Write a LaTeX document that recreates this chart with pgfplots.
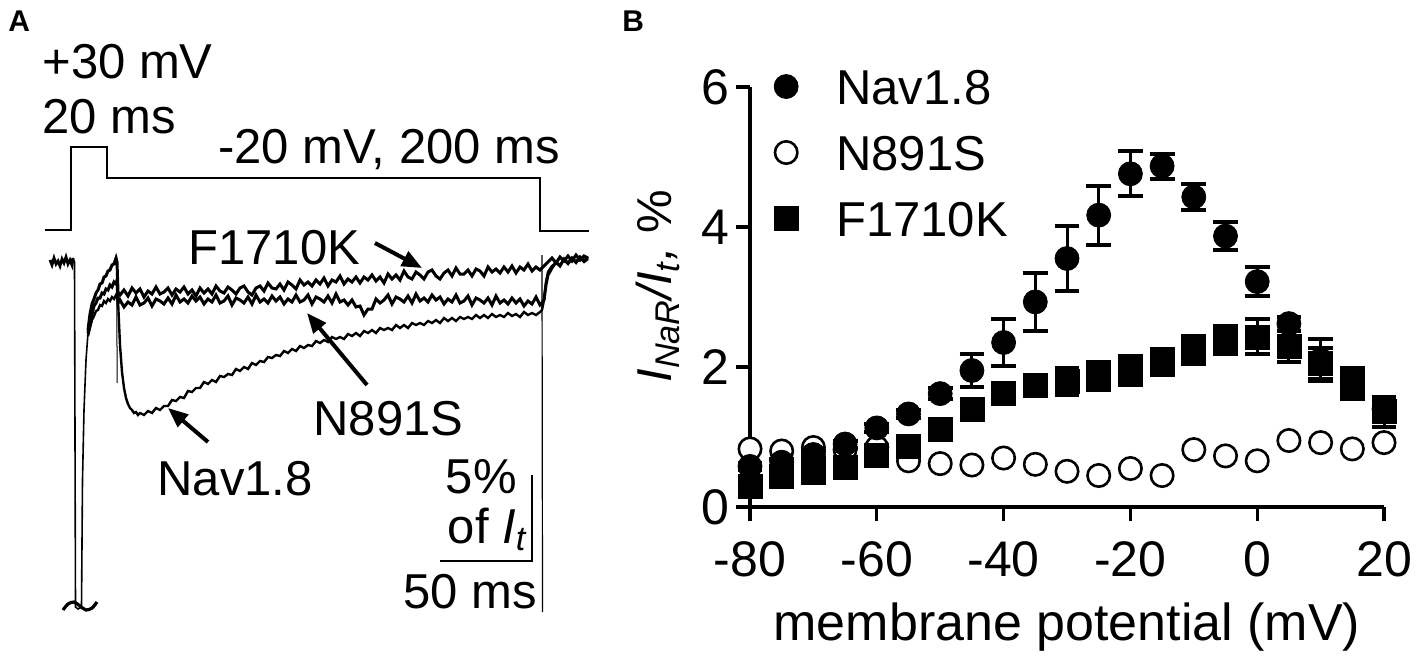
\documentclass[border=0pt]{standalone}
\usepackage{fontspec}
\setmainfont{Liberation Sans}
\usepackage{pgfplots}
\pgfplotsset{compat=1.18}
\usetikzlibrary{arrows.meta}
\newcommand{\bigf}{\fontsize{24.5}{28}\selectfont}
\newcommand{\tickf}{\fontsize{25}{28}\selectfont}
\newcommand{\labf}{\fontsize{26}{30}\selectfont}

\pgfplotstableread{
x y e
-80 0.58 0.05
-75 0.64 0.05
-70 0.75 0.05
-65 0.90 0.05
-60 1.13 0.06
-55 1.33 0.06
-50 1.62 0.08
-45 1.95 0.24
-40 2.35 0.33
-35 2.93 0.42
-30 3.55 0.46
-25 4.17 0.42
-20 4.76 0.32
-15 4.87 0.18
-10 4.43 0.19
-5 3.87 0.20
0 3.22 0.21
5 2.62 0.10
10 2.10 0.30
15 1.76 0.20
20 1.40 0.12
}\navdata

\pgfplotstableread{
x y e
-80 0.29 0.05
-75 0.44 0.05
-70 0.50 0.05
-65 0.57 0.05
-60 0.74 0.05
-55 0.87 0.05
-50 1.11 0.06
-45 1.40 0.08
-40 1.63 0.10
-35 1.74 0.15
-30 1.79 0.19
-25 1.87 0.20
-20 1.95 0.21
-15 2.07 0.19
-10 2.24 0.20
-5 2.38 0.20
0 2.43 0.25
5 2.29 0.22
10 2.05 0.22
15 1.76 0.22
20 1.36 0.21
}\fdata

\pgfplotstableread{
x y
-80 0.83
-75 0.80
-70 0.85
-65 0.82
-60 0.85
-55 0.66
-50 0.62
-45 0.60
-40 0.70
-35 0.61
-30 0.51
-25 0.45
-20 0.55
-15 0.45
-10 0.82
-5 0.73
0 0.66
5 0.95
10 0.92
15 0.83
20 0.92
}\ndata

\begin{document}
\begin{tikzpicture}
\useasboundingbox (0,0) rectangle (709pt,327.5pt);

% ---------------- Panel A ----------------
\begin{axis}[at={(0pt,0pt)}, anchor=south west, scale only axis,
  width=310pt, height=327.5pt, xmin=0, xmax=620, ymin=0, ymax=655,
  y dir=reverse, hide axis, clip=false]
% voltage protocol
\addplot[line width=1.25pt, black] coordinates {(45,230)(71,230)(71,147)(107,147)(107,178)(540,178)(540,231)(589,231)};
% pre-pulse baseline and clipped transient
\addplot[line width=1.4pt, black] coordinates {(50,260)(52,265)(54,258)(56,264)(58,261)(60,266)(62,259)(64,263)(66,257)(68,264)(70,260)(72,265)(73,258)};
\addplot[line width=0.8pt, black] coordinates {(73,258)(74.5,262)(75.5,607)(78,609)(81.5,607)(82.5,480)(84,410)(86,360)(88,333)};
% F1710K
\addplot[line width=1.5pt, black] coordinates {(88,330)(90,314)(92,304)(94,299)(96,293)(98,290)(100,284)(102,283)(104,277)(106,276)(108,271)(110,270)(112,265)(114,264)(116,258)(117,262)(118,292)(120,295)(124,290)(128,296)(132,288)(136,293)(140,289)(144,297)(148,291)(152,294)(156,287)(160,294)(164,292)(168,288)(172,295)(176,289)(180,292)(184,287)(188,294)(192,290)(196,296)(200,288)(204,293)(208,289)(212,294)(216,286)(220,291)(224,293)(228,287)(232,290)(236,294)(240,288)(244,286)(248,292)(252,295)(256,288)(260,286)(264,291)(268,283)(272,288)(276,289)(280,284)(284,290)(288,282)(292,285)(296,289)(300,280)(304,285)(308,282)(312,286)(316,280)(320,284)(324,278)(328,286)(332,280)(336,282)(340,276)(344,284)(348,279)(352,282)(356,277)(360,283)(364,277)(368,280)(372,275)(376,281)(380,277)(384,283)(388,274)(392,279)(396,275)(400,280)(404,271)(408,277)(412,279)(416,272)(420,275)(424,279)(428,272)(432,270)(436,276)(440,279)(444,273)(448,270)(452,276)(456,268)(460,274)(464,274)(468,270)(472,276)(476,269)(480,271)(484,276)(488,267)(492,272)(496,269)(500,273)(504,267)(508,272)(512,266)(516,273)(520,267)(524,270)(528,264)(532,271)(536,267)(540,270)(542,268)(544,266)(548,262)(552,258)(556,263)(560,257)(564,261)(568,256)(572,261)(576,255)(580,260)(584,256)(588,258)};
% N891S
\addplot[line width=1.5pt, black] coordinates {(88,333)(90,322)(92,314)(94,306)(96,303)(98,298)(100,298)(102,293)(104,294)(106,289)(108,290)(110,285)(112,287)(114,282)(116,284)(117,280)(118,303)(120,300)(124,307)(128,302)(132,305)(136,297)(140,305)(144,303)(148,298)(152,306)(156,299)(160,301)(164,304)(168,298)(172,304)(176,295)(180,302)(184,299)(188,303)(192,296)(196,301)(200,297)(204,304)(208,299)(212,302)(216,295)(220,303)(224,301)(228,296)(232,305)(236,298)(240,300)(244,303)(248,297)(252,304)(256,295)(260,302)(264,299)(268,303)(272,296)(276,301)(280,297)(284,304)(288,299)(292,302)(296,295)(300,302)(304,300)(308,295)(312,304)(316,297)(320,299)(324,302)(328,296)(332,303)(336,294)(340,302)(344,300)(348,305)(352,300)(356,307)(360,306)(364,315)(368,309)(372,309)(376,299)(380,303)(384,300)(388,295)(392,304)(396,297)(400,299)(404,302)(408,296)(412,303)(416,294)(420,301)(424,298)(428,302)(432,295)(436,300)(440,297)(444,304)(448,299)(452,302)(456,295)(460,303)(464,301)(468,296)(472,305)(476,298)(480,300)(484,303)(488,298)(492,305)(496,296)(500,303)(504,300)(508,304)(512,298)(516,303)(520,299)(524,306)(528,301)(532,304)(536,297)(540,305)(542,303)(544,300)(546,285)(548,275)(552,268)(556,262)(560,266)(564,259)(568,263)(572,258)(576,262)(580,257)(584,261)(588,257)};
% Nav1.8
\addplot[line width=1.2pt, black] coordinates {(88,336)(90,328)(92,320)(94,316)(96,311)(98,310)(100,305)(102,306)(104,301)(106,303)(108,299)(110,301)(112,297)(114,299)(116,295)(117,298)(118,300)(120,345)(122,372)(124,388)(126,398)(128,404)(130,408)(132,410)(134,413)(136,412)(138,415)(140,413)(144,415)(148,411)(152,413)(156,408)(160,410)(164,406)(168,406)(172,400)(176,401)(180,397)(184,398)(188,391)(192,392)(196,388)(200,388)(204,382)(208,384)(212,380)(216,382)(220,376)(224,377)(228,374)(232,375)(236,369)(240,371)(244,367)(248,369)(252,363)(256,365)(260,361)(264,362)(268,357)(272,358)(276,355)(280,356)(284,351)(288,353)(292,349)(296,351)(300,346)(304,348)(308,345)(312,346)(316,341)(320,343)(324,340)(328,342)(332,337)(336,339)(340,337)(344,339)(348,334)(352,336)(356,333)(360,336)(364,331)(368,333)(372,330)(376,333)(380,328)(384,330)(388,328)(392,330)(396,325)(400,328)(404,325)(408,328)(412,323)(416,325)(420,323)(424,325)(428,321)(432,323)(436,320)(440,323)(444,318)(448,321)(452,318)(456,321)(460,317)(464,319)(468,317)(472,319)(476,315)(480,318)(484,315)(488,318)(492,314)(496,317)(500,315)(504,317)(508,313)(512,316)(516,314)(520,317)(524,312)(528,315)(532,313)(536,315)(540,312)(542,310)(544,300)(546,282)(548,272)(552,266)(556,263)(560,265)(564,260)(568,264)(572,259)(576,263)(580,258)(584,262)(588,259)};
% capacitive transients
\addplot[line width=0.5pt, black] coordinates {(116.5,255)(117.2,383)};
\addplot[line width=0.6pt, black] coordinates {(542,255)(542.5,612)};
% truncation mark
\addplot[line width=1.6pt, black, smooth] coordinates {(63,610)(68,604)(74,602)(80,606)(86,610)(92,608)(97,602)};
% scale bar
\addplot[line width=1pt, black] coordinates {(440,561)(532,561)(532,475)};
% arrows
\draw[line width=2pt, -{Triangle[length=10pt,width=8pt]}] (axis cs:375,243) -- (axis cs:422,268);
\draw[line width=2pt, -{Triangle[length=10pt,width=8pt]}] (axis cs:367,385) -- (axis cs:307,313);
\draw[line width=2pt, -{Triangle[length=10pt,width=8pt]}] (axis cs:208,442) -- (axis cs:168,408);
% texts
\node[anchor=north west, inner sep=0pt, font=\bfseries\fontsize{15}{17}\selectfont] at (axis cs:8,10) {A};
\node[anchor=base west, inner sep=0pt, font=\bigf] at (axis cs:42,78) {+30 mV};
\node[anchor=base west, inner sep=0pt, font=\bigf] at (axis cs:42,133) {20 ms};
\node[anchor=base west, inner sep=0pt, font=\bigf] at (axis cs:218,163) {-20 mV, 200 ms};
\node[anchor=base west, inner sep=0pt, font=\bigf] at (axis cs:188,264) {F1710K};
\node[anchor=base west, inner sep=0pt, font=\bigf] at (axis cs:313,435) {N891S};
\node[anchor=base west, inner sep=0pt, font=\bigf] at (axis cs:157,495) {Nav1.8};
\node[anchor=base east, inner sep=0pt, font=\bigf] at (axis cs:517,493) {5\%};
\node[anchor=base east, inner sep=0pt, font=\bigf] at (axis cs:528,543) {of \textit{I}\textsubscript{\textit{t}}};
\node[anchor=base east, inner sep=0pt, font=\bigf] at (axis cs:537,608) {50 ms};
\end{axis}

% ---------------- Panel B ----------------
\begin{axis}[at={(375pt,74pt)}, anchor=south west, scale only axis,
  width=317pt, height=210pt,
  xmin=-80, xmax=20, ymin=0, ymax=6,
  axis x line*=bottom, axis y line*=left,
  axis line style={line width=1.6pt, -},
  every outer x axis line/.append style={-},
  every outer y axis line/.append style={-},
  xtick={-80,-60,-40,-20,0,20}, ytick={0,2,4,6},
  tick align=outside, major tick length=7pt,
  tick style={line width=1.6pt, black},
  ticklabel style={font=\tickf},
  xticklabel style={yshift=-7pt},
  /pgf/number format/assume math mode=true,
  clip=false,
  xlabel={membrane potential (mV)},
  xlabel style={font=\labf, at={(axis description cs:0.5,0)}, anchor=base, yshift=-66.5pt},
  ylabel={\textit{I}\textsubscript{\textit{NaR}}\textit{/I}\textsubscript{\textit{t}}\textit{,} \%},
  ylabel style={font=\bigf, at={(axis description cs:-0.145,0.526)}, anchor=center},
  legend style={at={(axis description cs:0.0375,1.045)}, anchor=north west,
    draw=none, fill=none, font=\bigf, inner sep=0pt, row sep=15pt,
    nodes={inner sep=0pt, text height=18pt, text depth=0pt},
    /tikz/every odd column/.append style={column sep=19pt}},
  legend cell align=left,
  legend image code/.code={\draw[#1] plot coordinates {(0pt,0pt)};},
]
\addlegendimage{only marks, mark=*, mark size=6pt, black}
\addlegendentry{Nav1.8}
\addlegendimage{only marks, mark=*, mark size=5.6pt, mark options={fill=white, draw=black, line width=1.3pt}}
\addlegendentry{N891S}
\addlegendimage{only marks, mark=square*, mark size=6pt, black}
\addlegendentry{F1710K}

\addplot[forget plot, only marks, mark=*, mark size=5.6pt, mark options={fill=white, draw=black, line width=1.3pt}] table[x=x, y=y] {\ndata};
\addplot[forget plot, only marks, mark=*, mark size=6pt, black,
  error bars/.cd, y dir=both, y explicit, error mark=|,
  error bar style={line width=1.5pt, black},
  error mark options={line width=2pt, mark size=6.2pt, black}]
  table[x=x, y=y, y error=e] {\navdata};
\addplot[forget plot, only marks, mark=square*, mark size=6pt, black,
  error bars/.cd, y dir=both, y explicit, error mark=|,
  error bar style={line width=1.5pt, black},
  error mark options={line width=2pt, mark size=6.2pt, black}]
  table[x=x, y=y, y error=e] {\fdata};
\end{axis}
\node[anchor=north west, inner sep=0pt, font=\bfseries\fontsize{15}{17}\selectfont] at (311pt,322.5pt) {B};
\end{tikzpicture}
\end{document}
